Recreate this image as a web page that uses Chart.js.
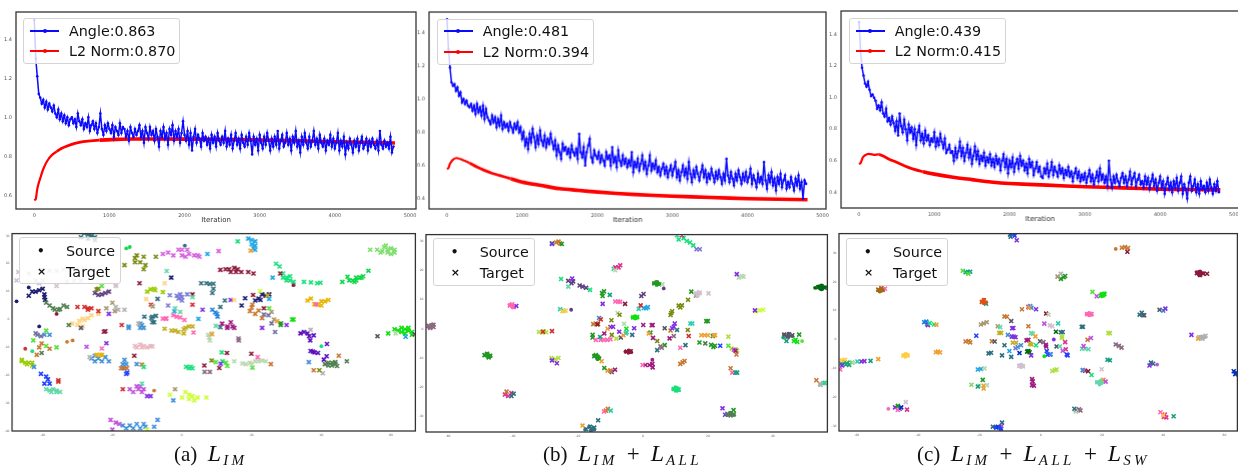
<!DOCTYPE html>
<html><head><meta charset="utf-8">
<script src="https://cdn.jsdelivr.net/npm/chart.js@4"></script>
<style>
html,body{margin:0;padding:0;background:#fff;width:1238px;height:468px;overflow:hidden}
#page{position:relative;width:1238px;height:468px;overflow:hidden;font-family:"DejaVu Sans",sans-serif}
canvas{position:absolute;filter:blur(.45px)}
.lg{position:absolute;background:rgba(255,255,255,.8);border:1px solid #d4d4d4;border-radius:3px;box-sizing:border-box}
.lg span.t{position:absolute;font-size:14.3px;line-height:18px;color:#111;white-space:nowrap}
.lg i.l{position:absolute;height:2px;width:29px}
.lg i.m{position:absolute;width:4px;height:4px;border-radius:50%}
.lg b.d{position:absolute;font:700 11px "DejaVu Sans";color:#111}
.cap{position:absolute;top:440px;font-family:"Liberation Serif",serif;font-size:21px;line-height:26px;color:#111;white-space:nowrap}
.cap i.L{font-size:24px}
.cap sub{font-size:15px;font-style:italic;vertical-align:-4px;line-height:0;letter-spacing:3.4px;margin-left:2px}
.cap .p{margin:0 11px 0 9px;font-size:23px}
</style></head><body><div id="page"></div>
<script>
const lineXTicks=[0,1000,2000,3000,4000,5000];
const lineYTicksA=[0.6,0.8,1.0,1.2,1.4];
const lineYTicksB=[0.4,0.6,0.8,1.0,1.2,1.4];
const logStep=20;
const angleA=[
1.50,1.30,1.21,1.12,1.10,1.07,1.09,1.05,1.08,1.04,
1.07,1.05,1.03,1.06,1.02,1.00,1.04,.99,1.02,.98,
1.01,.97,1.00,.96,.99,1.00,.97,.99,.95,1.02,
.98,.96,.99,.94,.97,.95,1.00,.93,.96,.98,
.94,.97,.92,.95,1.02,.94,.91,.96,.93,.97,
.94,.92,.96,.90,.95,.93,.91,.97,.92,.95,
.94,.90,.93,.88,.95,.92,.90,.94,.91,.93,
.96,.90,.93,.87,.95,.92,.89,.95,.91,.93,
.88,.94,.90,.85,.93,.90,.95,.89,.92,.86,
.94,.91,.96,.88,.93,.90,.94,.87,.92,.98,
.91,.88,.93,.86,.92,.83,.90,.94,.87,.91,
.89,.85,.92,.88,.90,.86,.89,.84,.91,.87,
.90,.85,.92,.88,.86,.90,.87,.93,.85,.89,
.86,.91,.84,.88,.92,.86,.89,.84,.91,.87,
.85,.90,.86,.92,.88,.81,.90,.86,.89,.83,
.91,.87,.84,.90,.86,.92,.88,.83,.89,.85,
.90,.86,.93,.84,.88,.91,.85,.87,.92,.86,
.89,.83,.90,.87,.93,.85,.88,.82,.90,.86,
.92,.87,.84,.90,.85,.88,.93,.86,.89,.84,
.91,.87,.85,.89,.83,.88,.86,.91,.85,.89,
.84,.87,.92,.83,.88,.85,.90,.81,.87,.84,
.89,.86,.82,.88,.85,.89,.83,.87,.90,.84,
.86,.89,.83,.88,.85,.89,.86,.84,.88,.83,
.93,.86,.84,.88,.85,.87,.84,.90,.82,.85];
const angleB=[
1.48,1.30,1.19,1.10,1.08,1.09,1.05,1.07,1.02,1.04,
.98,1.00,.97,.99,.96,.95,.97,.93,.96,.91,
.97,.92,.95,.90,.96,.88,.94,.89,.87,.85,
.90,.86,.89,.83,.88,.84,.90,.82,.86,.83,
.85,.81,.86,.83,.80,.85,.82,.86,.80,.83,
.76,.80,.72,.76,.70,.79,.74,.82,.77,.71,
.78,.73,.81,.75,.72,.78,.71,.76,.73,.79,
.74,.70,.75,.66,.72,.68,.64,.73,.69,.71,
.67,.70,.65,.72,.68,.66,.70,.64,.79,.68,
.65,.71,.60,.68,.72,.76,.65,.62,.69,.66,
.64,.68,.62,.66,.63,.60,.68,.64,.66,.60,
.71,.62,.65,.59,.69,.63,.60,.66,.61,.64,
.59,.63,.60,.68,.56,.62,.59,.64,.57,.61,
.66,.58,.62,.55,.60,.66,.57,.61,.58,.63,
.56,.59,.54,.58,.61,.55,.59,.53,.57,.60,
.54,.58,.62,.53,.57,.51,.56,.60,.54,.58,
.52,.62,.55,.50,.57,.53,.59,.55,.51,.56,
.60,.53,.57,.50,.55,.52,.58,.54,.50,.56,
.52,.57,.53,.49,.55,.51,.64,.54,.50,.56,
.52,.48,.55,.51,.57,.53,.49,.55,.51,.56,
.50,.53,.58,.49,.54,.51,.47,.55,.50,.53,
.49,.62,.51,.46,.54,.50,.56,.48,.52,.45,
.53,.49,.55,.47,.51,.54,.46,.50,.47,.53,
.49,.45,.52,.48,.54,.46,.50,.40,.51,.49];
const angleC=[
1.48,1.30,1.19,1.14,1.09,1.07,1.10,1.05,1.01,1.02,
1.00,.98,.93,.95,.92,.97,.90,.88,.93,.85,
.87,.83,.88,.84,.79,.85,.76,.90,.82,.78,
.86,.80,.73,.83,.78,.81,.74,.80,.70,.78,
.82,.73,.77,.71,.79,.73,.76,.70,.74,.72,
.78,.69,.74,.70,.77,.72,.68,.74,.65,.67,
.70,.65,.66,.60,.68,.62,.66,.72,.63,.68,
.60,.65,.70,.62,.67,.58,.63,.69,.61,.66,
.58,.63,.60,.65,.57,.62,.59,.64,.57,.61,
.56,.63,.58,.61,.54,.60,.64,.56,.61,.52,
.60,.56,.62,.53,.58,.61,.55,.63,.57,.60,
.54,.58,.52,.61,.56,.59,.51,.55,.59,.53,
.56,.50,.49,.55,.52,.58,.50,.54,.59,.51,
.56,.53,.50,.57,.52,.55,.49,.54,.51,.56,
.50,.53,.47,.52,.55,.49,.53,.47,.51,.48,
.52,.46,.50,.54,.47,.51,.45,.49,.53,.47,
.55,.48,.51,.46,.50,.44,.60,.48,.43,.50,
.46,.51,.47,.44,.49,.52,.46,.50,.44,.48,
.53,.45,.49,.52,.44,.48,.51,.45,.47,.43,
.50,.45,.49,.42,.47,.51,.44,.48,.41,.46,
.50,.43,.47,.39,.45,.49,.42,.46,.40,.47,
.43,.49,.41,.46,.50,.39,.45,.42,.36,.46,
.50,.41,.44,.48,.40,.45,.39,.47,.42,.44,
.40,.46,.41,.48,.43,.39,.45,.41,.47,.40];
const l2A=[[0,.575],[20,.58],[35,.62],[50,.65],[80,.688],[120,.735],[170,.775],[230,.805],[300,.825],[360,.84],[430,.852],[540,.866],[650,.875],[870,.883],[1100,.887],[1310,.889],[2000,.888],[2500,.887],[3000,.884],[3500,.880],[4000,.875],[4400,.872],[4800,.868]];
const l2B=[[0,.578],[20,.585],[40,.61],[80,.635],[130,.645],[200,.635],[300,.615],[400,.59],[500,.57],[600,.553],[700,.54],[850,.52],[1000,.50],[1250,.48],[1500,.46],[1750,.45],[2000,.44],[2500,.425],[3000,.415],[3500,.408],[4000,.40],[4400,.397],[4800,.394]];
const l2C=[[0,.578],[20,.585],[50,.62],[80,.635],[130,.643],[200,.637],[260,.64],[320,.63],[400,.61],[500,.59],[600,.568],[700,.55],[850,.53],[1000,.515],[1250,.495],[1500,.48],[1750,.465],[2000,.455],[2500,.445],[3000,.435],[3500,.428],[4000,.42],[4400,.417],[4800,.415]];

const classColors=['#1ea7e6','#7ddf6a','#0fd848','#18e07a','#d85fe0','#7a8a10','#56e03a','#8b1a3a','#2f6f7f','#1a1a6e',
'#9acd00','#ffd27f','#e8b400','#ff66b3','#7a7ad8','#2080e0','#c0b020','#b8d8b0','#e8b8c0','#f0a030',
'#4090d8','#10e010','#5a10c0','#2040ff','#60d8a8','#c050e0','#ccff33','#8030e0','#a06090','#d03030',
'#508050','#b0b0b0','#604080','#c87830','#229922','#2ad0b0','#a01a80','#555566','#e03090','#7070a0',
'#b0e040','#14a080','#006a10','#a89870','#d0c0d0','#8e6a82','#a56a1a','#e05010','#ffcc44','#0030c0'];
const sourcesA=[[9,-41,-2.5,-47.5,6.5,-44,11.5],[7,-36,2,32,12.3],[8,.8,26.5],[2,-16,25.5,-15,26],[29,-45,-10.5],[3,-43,-11.4,40,-9.6],[33,-8,-25.5,-33,-8,-31.4,-7.5]];
const targetsA=[
[0,19,29,20,28.5,21,28,20,27,21,26.5,20.5,25.5,21,25,7.3,23.5,26,15],[19,19.7,24.7],[3,16,28],
[1,54,25,56,25,57.5,24.5,58,26,59,25,60,25.5,61,25,59,24,60,23.5,61,24,58.5,26.5,57,24],
[2,46,13.5,47.5,15.3,49,14,50,15,51,15,50,14,49.5,13.5,51.5,15,52,15.5,53.5,17.5,48,14],
[3,27,20,28,19,29,16.5,29,15,30,14,31,14,32,13.5,30,15,31,15.5,35,13.5,37,13.3,38.8,13,39.7,13.2],[7,28.2,16.5],
[4,-5.5,23.5,-4,24,-2.5,23,-1,25,0,25,1.5,25,0,23,1,22.5,2,23.5,3.5,23,4.5,23,5,22.5,10.5,24.5],
[5,-13,23,-13.5,22,-11,22.5,-13.5,20.5,-12,20.5,-10.5,19.5,-16.5,19.5,-11,18,-7.5,22.5,-24.5,10.8,-24,11],
[7,11,17.8,12.5,18,13.5,18,14,17,15,18.5,16,18,15.5,17,17,17,19,17,20.5,16.5,-22.4,-4.4,-22,-4.2,-12.2,13,-13.7,-13],
[8,5.5,13,7,13,8,12.7,9,12.8,9,11,8.7,9.5,-10.8,1,-8.5,1,-8.8,.5,-8,-1,-8.5,-1,-7.5,1.3,-7,7.4,11,4.5,12.3,6.8],
[14,-3.5,8.7,-1.5,8.5,-1,7.5,-.5,9,0,8,0,6.8,1.5,9],[7,3,9],
[9,-44,8.5,-43,10,-42,10,-41,10.5,-40,11,-39.5,9,-39.5,8,-39.3,7,-3.1,15,17.1,5,18.1,7.6,21,6.8,22.5,7,24,8.5,25,9,22,7.5,23,9],
[30,-39,6,-38,5,-37,4,-36.5,3.5,-35.5,3.5,-35,3.7,-34,5,-33,4.5],
[10,-46,-15,-45,-15.5,-44,-15.5,-43,-15.5,-44.5,-16,-46,-14.5,-43,-16.5,-10,10,-9,10.8,-8,11,-7.7,10.5,-5.5,9.8],
[23,-40.5,-19.5,-39,-20.5,-38.5,-21.5,-38,-23,-39.5,-23],[29,-35.5,-21.8,-35.5,-22.3],
[24,-39,-25,-38,-25.5,-37,-25,-36,-25.5,-35,-26,-37.5,-26,-36,-26],
[25,-20.5,-36,-19,-37,-20,-39.5,-18,-37.5,-13,-24,-15,-25,-14,-26,-12.5,-25,-12,-24,-11.5,-26,-11,-25],
[20,-17,-38,-16,-39,-15,-38,-14,-39,-13,-37.5,-12,-39,-11,-37.5,-10.5,-38.5,-8,-38.5,-7,-36],[26,-10,-39.5],
[27,-10,-27.5,-9,-27.5,5.9,3.5,14,7],[24,-11.5,-23],[29,-17,-25],
[26,-3.5,-27,0,-28,1,-26,2,-27,2,-28.5,3,-27.5,3.5,-29,4.5,-28,7,-28],[43,-2,-25],[20,-2.5,-29],
[20,-25,-13,-26,-14,-25,-15,-24,-14,-23,-15,-22,-13.5,-21,-15],[12,-24.5,-12.7,-23.5,-12.7,-23,-12.7],[31,-26.5,-13.5],
[25,-27.4,-9.8],[13,-23,-10.4],[27,-21.7,-8.5,-21,2],
[20,-16.5,-14.5,-17,-16,-17,-17.5,-16,-16,-13,-16,-15.3,-2.5,-15.3,-3,-11.5,-2,-12,-1.5,-11,-3,-12,-3],[33,-17.5,-17.5,-16.5,-17.5,-15.8,-17.5,-11.5,-16.2],[23,-16,-19.5,-15.7,-19],[3,-11,-17],
[18,-13.5,-9.5,-13,-10,-12,-9,-11.5,-10,-11,-9.5,-10,-10,-9,-9.5,-8.5,-9.7],
[39,-42,-5,-41.5,-5.5,-40.5,-6],[20,-39.5,-5.5,-38,-5.5],[6,-39,-4,-42.7,-7.5,-39,-9.5,-36,-10],[33,-40.3,-8.6,-41,-10,-38,-10.5,-41.7,-12.7],[30,-40.3,-12],[20,-42.5,-17],
[11,-31.5,-1.5,-30,-2,-29.5,-.5,-28.5,.2,-28,-.2,-27,.5,-28.5,-2.5,-26,1.5,-24,2],[37,-29,-3],[30,-32.5,-2],
[29,-30,4.5,-28,4.5,-27,4,-26,4,-27,3.5,-24,3],[43,-21.7,4,-20,6,-19.3,3],[31,-19,4.5,-18.3,3.5,-16.5,3.5],
[32,-25,9.5,-24,8.8,-23,9,-22,9.5,-21,10],[29,-17.3,-2,-8.9,5.3,3,5.3],[31,-12.5,-1.5],
[11,-10.3,7.3,-5,13],[43,-8.4,4.7],[24,-4.4,17.4,3,8],[14,-4,5],[0,-2.2,3,4.7,.2],[24,-2,4,-.5,2.7],
[13,-5.5,.3,-4.5,.4,-4.7,.2,-2.5,1.5,-1.5,1,-.5,.7,.7,-.2,3.3,-4.7],
[16,-5,-3.3,-3,-4,-2,-4,-1,-4.5,.5,-5,.5,-3.5,1,-3,2,-2.5,3,-2.5],
[15,8.7,3.5,9.5,2.5,10,2,10.2,1],[17,7.8,-6.5,8,-7.5,7.5,-5.5,8.5,-5],[19,8.6,-5.3],
[24,9.7,-2.3],[8,11,-2.8],[36,11.5,-1.5,13,-2.5,13,-3,14,-1,14.5,-2.5,15,-3],[45,16.2,-6.8,16.3,-7.5],[11,15,7],
[26,22.4,10.2],[12,24.5,8.6],[0,25,7.4],[7,20.4,8.8,23.5,4],[33,20.2,5.3,20,4.3,19.5,3,21,2,23,.5,22,3.2],[6,25,4],[43,25.7,2.7,26.4,0],[39,23.5,1.8,24.8,1.5,25.7,-1.4,26.7,-4.5],[27,23,-3,30,-2],[19,27.3,-.6],[34,28.3,-2,28.4,-1.4],[21,31.6,0,32,0],
[12,36,6.8,37,7.5,38,5.5,39,5.3,40,6.5,41,6.5,42,7,40,5],[13,38.5,5.4],
[22,34,-5,35,-4.5,36,-5,36.5,-6,36.8,-7.5,37.8,-5.7,36.9,-11.3,37.5,-11.5,38,-11.8,39,-12,41.6,-8.8,40.7,-14.4,41.5,-13.2],[31,36.9,-3.7,40.4,-19.3],[20,36.4,-15.3],
[30,41,-16,42,-15.5,43,-15.5,44,-15.3,42,-16.5,44,-16,43,-16.5,47.3,-15,44.5,-16.7],[33,45,-13,37.8,-18.2],[5,39.4,-18.2],
[21,61,-3.5,62,-4,63,-3,64,-3.5,65,-4,64,-5,63,-4.5,65,-3,66,-4.5,66,-5.5,59.2,-5],[17,61.3,-5],[0,64.2,-6.2],[37,56.1,-6,66.8,-5.3],
[3,1.2,-17,2,-17.5,2.5,-17,3,-17.5,11.6,-15,11.4,-11.8],[7,6.4,-16.5,10.7,-17.4,19.9,-12.3,12.9,-12],[45,6.5,-18.8,8,-18.8],[5,8.5,-14.7],[6,9.7,-15.3,20.2,-17.3,12.6,-15.5,13,-16.7],[27,11.1,-15.9],
[17,15,-15,17.3,-15.8,18.3,-16,19.5,-15.5,21,-15,22,-15,23,-14.7,20,-16,24,-15],[33,25.5,-16],[13,21.7,-13.5],
[44,-47,17,-47.5,14,-44,16.5,-42,14,-40,17,-40.5,18,-38,17.5,-36,17.5,-34,18,-30,16,-28,18,-26,18,-33,13.5,-31,14,-29,14,-40,14,-41,13,-36,12,-30,18],
[8,-28,31,-27,30.5,-29,29.5,-26,30,-25,29.5,-27,29,-25,28.5],[44,-19,12.5,-19,12],[6,-23,12]
];
const sourcesB=[[36,2.9,-10.6],[32,6.4,13.8,-22.1,6.5],[41,43.2,-3],[6,49,-4.2],[42,53,14],
[45,-66,.8,-65.5,1.2,-65,.6,-64.5,1,-65.8,.4,-64.8,1.5],[34,-48.6,-9,-48,-8.5,-47.4,-9,-47.8,-9.6,-47,-9.4],
[3,9.3,-20.6,10,-20,10.8,-20.4,10.3,-21.2,11,-21],[42,54,14.5,55,14.8,56,14.2,55,13.5,54.5,13.8],
[21,-3.2,3.9,-2.4,4.3,-1.7,3.8,-2.4,3.5],[34,3.4,15.6,4.3,16,5,15.4,4.2,15],[44,16,12.2,17,12.6,17.6,12,16.8,11.4],
[7,-5.4,-7.8,-4.4,-7.4,-3.6,-8,-4.5,-8.2],[8,-17.8,-34.5,-16.5,-33.4,-15,-34.5,-16,-35],[37,43.5,-2,44.8,-1.7,46,-2.5,44.8,-2.8],
[30,26,-29.5,27,-28.7,28,-29.5],[13,-41,8.2,-40,8,-40.2,7.4],[34,-15,-9.2,-14,-9.3,-13.5,-10,-14,-10.4]];
const targetsB=[
[45,-66,1,-65,1,-64.5,.6,-65.5,.3,-64.5,1.4],[34,-48.8,-9,-48,-8.6,-47,-9.2,-47.5,-9.8],[40,-32,-1.1,-31,-1.3,-30.5,-.9,-29.8,-1.2],[29,-30.8,-1,-28,-.8],
[13,-41,7.9,-40.3,8.4,-39.8,7.4],[27,-39,7.8],[40,-28.2,-10,-27,-10.4,-26,-10],[27,-28,-10.8,-26.5,-11.8],
[38,-42.5,-22.5,-41.5,-23,-40.5,-22],[33,-42,-21.5],[8,-40.5,-23,-39.8,-22.2],[8,-17.5,-34.3,-16,-34.2,-15,-33.8,-16.3,-33.5],[19,-18.6,-33.1],[8,-13.8,-31.3],[33,-11.4,-28,-10.8,-27.4],[13,-12,-28.3],[35,-9.9,-28],
[33,-26.7,29.5,-26,29.8,-25.5,29.2],[34,-28,29.2,-25,29],[27,-28,29],
[3,10.5,32,11,30.5,12.5,31,13.5,30,14.5,29.5,15.5,28.5],[38,12,32],[14,16.5,27.2,17.5,27.2],[3,-9,20.5],
[38,-8.5,21,-7.5,21,-7,21.7],[17,-8.5,20],[34,3.5,15.5,4.2,15.8,5,15.2],[17,6,15.2],[42,54,14.2,55,14.5,56,14,55,13.8],
[17,29.5,17.5,30.5,18,31,17.8],[27,28.9,18.7],[44,16.5,12,17.5,12.4,16.8,11.6,20.2,12.1],[5,13.9,9.9],[34,14.9,12.7],[43,16.3,11.3],
[5,11,7.9,12,8,11.5,7.3,8.7,5.4,9,6,8.5,4.7],[26,34.8,6,36,6.3,37,6.5],[27,34.5,6.3],
[37,43.5,-2,45,-1.9,46,-2.2,44.5,-2.7],[21,46.5,-4.2,47.5,-4.5,47,-3.8],[34,48.1,-2],[41,44.2,-4.2],
[31,54.5,-18.8,55.5,-18.6,54.7,-19.2],[33,53.4,-17.6],[3,56,-18.5],[3,9.5,-20.6,10.2,-20.4,11,-20.8,10.2,-21],
[30,26,-29.1,27,-29,28,-29.2,27,-29.6],[27,24.5,-27.2,25.3,-29.4],[34,27.9,-27.8],
[40,27.3,-6.8,28.5,-7,29,-7.4],[25,28,-7.2],[33,28.8,-8.8],[33,27,-13.5],[13,27.5,-15],[41,28.5,-15,29,-15],
[33,11.5,-12,12.2,-11.5,12.8,-11],[36,.8,-12.4,2,-12.4,2.9,-12,3,-13.2],[13,-.1,-12.4],
[7,-5,-7.8,-4.2,-7.8,-3.8,-7.7],[34,-15,-9.4,-14,-9.6,-13.5,-10.2,-14.5,-9],[19,-12.7,-11.1,-10.9,-14.3],[34,-11.9,-13.4],[37,-9.6,-14.8],[36,-8.6,-14],
[32,-19.5,14.8,-18.6,14.4,-17.5,14,-21.5,16.2,-23,16.4,-22,15.6],[34,-12.6,12.2,-12.4,11.2,-12,12.8],[41,-10.2,11.6],[3,-16.3,13.3,-25.2,17],[27,-21.8,17.2],[24,-23,14.4],
[35,-25.5,6.7,-24.5,6.2],[48,-24.8,6,-23.8,6.2],[13,-8.5,9.3,-7.6,9.3,-7,9.2],[7,-5.5,8.5],[27,-12.4,8.5],
[21,-3,3.9,-2.4,3.9,-1.8,4],[0,.3,7.1,1,7,1.5,7.4],[35,-1.3,6.8],[29,-.7,8],[32,-.5,11.2,.2,11.9],
[33,-15.3,1.6,-14.5,1.8,-13.8,1.7],[7,-14,1.5],[20,-13.5,3.7],[29,-13,3.2],[27,-10,.6,-9.2,.7,-7.3,-1],[17,-7.8,5.4],[5,-7.2,4.8,-9.7,2.9],[17,-5.8,1.7],[21,-5.1,0],
[19,-10.9,0],[36,-11.9,-1.6],[27,-2.7,.2],[35,-5.3,-1.6,-5,-1.2],[8,-3.3,-2.1],[36,.1,1.3,2.7,1.2,3,1.3],[34,2.3,-1.3],[19,1.8,-1.6],[36,3.1,-3.1],[37,6.7,.2],[33,8.5,-.6],[27,9.5,.7,9.8,1.8,9,.2],[8,10.5,-.4],[45,9.5,-2.5],[36,8.2,-3.3],
[29,14.1,-2.5],[5,13.8,-.4],[34,6.7,-5.6],[45,5.4,-6,5.8,-6.5],[5,4.4,-4.2],[8,4.4,-7.3],[13,11.5,-6.5],[8,13.1,-5.6],[34,17.4,-4.7],[30,19.2,-5],[40,26.3,-2.7],[6,26.3,-5.8],[23,23.8,-5.8],
[34,21,-5.5,21.7,-6.2,22.2,-5.8,21.5,-2.5],[19,18,-2.2,19,-2.2,20,-2.2,21.8,-2.2,22.2,-2.2],[35,14.6,1.8,15.2,1.8],[34,19.5,2.6,20,2.6],[34,-15.5,-2.1,-15.5,-3],[13,-14.5,-3.8,-13,-3.8,-12,-3.8,-11,-3.8,-10,-3.6],[41,-13.2,-2.8],[5,-9.6,-2.1],[40,-8.2,-3.4],[37,-6.8,-3],[19,-6,-2.2],
[33,-10,-14.3],[36,28.5,-7.5]
];
const sourcesC=[[33,24.5,31.4],[25,38,-8.7],[27,4.3,0],[21,1.2,-5.8],[13,-49.7,-24],[17,-61.1,-8],
[7,51,23.3,52,23.6,53,23,52,22.2,51.5,22.6],[48,-44.8,-5.4,-44,-5,-43.4,-5.6,-44.2,-6],[46,-53,17,-52,17.6,-51.5,17,-52.5,16.6],
[13,15,8.8,15.8,9.2,16.6,8.6,15.8,8.4],[44,-7,-9,-6.3,-8.7,-5.7,-9.2,-6.4,-9.6],[31,52,1,53,1,53.8,.9,52.8,.4],
[21,20,15.8,20.8,16,20,15,20.6,15.2],[24,18.4,-14.8,19.4,-14.4,20,-15,19.2,-15.6],[23,-14.8,-30.5,-13.5,-30.2,-13,-31],[47,-19.2,13.2,-18.5,13.8,-18,12.8,-18.6,12.6]];
const targetsC=[
[41,-65,-8.3,-64,-7.8,-63.5,-8.6,-63,-8,-62.5,-8.8],[48,-65,-7.2,-63.8,-7],[27,-64.8,-9],[13,-65.4,-10.4],[27,-58.5,-7.6,-57.5,-7.5],[35,-59.8,-7.6],[41,-55.5,-7.4],[19,-53,-6.8],
[48,-44.8,-5.6,-44,-5.3,-43.4,-5.5],[19,-34.2,-4.4,-33.5,-4.2,-32.8,-4.5],[46,-53,17.3,-52.4,17,-51.5,17.3,-52,17.8],[13,-50.8,17.6],
[41,-24.5,23.3,-23.7,23.4,-23,23.5],[6,-25.4,23.8,-23.6,22.8],[15,-38,6,-37.3,6.2,-37,5.4],[27,-36.8,5],[3,-36.2,5.7,-34.8,5.2],[19,-34,5.1],
[47,-19.2,13,-18.5,13.6,-18,12.8],[41,-17.8,12.4],[33,-24.5,-.7,-23.5,-.5,-23,-1],[43,-19.5,5.2,-18.6,5.6,-17.6,6],[33,-11.8,8,-11,7.9],[37,-9.6,6.4],
[23,-10,36.4,-9,36.7,-8.5,36],[8,-9.8,35.6],[27,-7.8,34.4],[33,26.5,31.8,27.5,32,28.5,31.7],[7,28.3,30.4],[34,6.6,21,7.5,21.6,8,22],[43,5.5,21.8],[31,6.6,22.8],
[21,20,15.6,20.8,15.8,19.6,15.2],[6,16.9,16.5],[25,18.3,15],[7,51,23,52,23.2,53,22.8,52,22.4],[7,54.3,22.8],
[8,32.3,8.6,33,9.3,33.3,8.4],[37,33.8,8.4],[37,38.8,10.3],[20,40,10],[27,40.7,10.7],[13,15.2,8.8,16,8.8,16.6,8.8],
[31,51.7,.8,53,.9,53.8,1.3,52.8,.3],[19,51.4,.3],[27,49.2,1.6],[45,24.5,-1.7,25.5,-2.2,26.4,-2.8],[41,21.8,-7,22.6,-7.2],[8,36,-8,36.7,-8.4],[27,35.5,-9],[49,63,-11,63.5,-12,63.8,-11.5],
[24,18.5,-14.8,19.5,-15,20,-14.3],[19,20.5,-14],[25,21.2,-14.6],[7,14.5,-10.8,15.5,-11],[13,13.9,-10.6],[3,16.6,-12.3],[20,13.7,-10.6],
[38,40.2,-26.8,41,-27,40.5,-26],[48,40,-26.2],[13,39.1,-25.2],[41,43.4,-26.6],[45,11.5,-24.5,12.5,-24.2,13,-24.6],[17,11.5,-25],[8,11,-24],
[49,-14.5,-30.5,-14,-30.2,-13,-30.8],[25,-12.8,-30],[8,-15.6,-30.2,-12.6,-28.8],[27,-47.5,-23.5,-46,-24],[13,-46.6,-24.4],[34,-46.6,-23],[49,-45.5,-23.5],[44,-44,-21.7],[38,-43.6,-24.3],
[36,-2.8,-15.8,-2.2,-16,-2.6,-14.5,-2.8,-13.7],[19,-18.6,-16,-18.6,-17],[17,-20,-16,-17.5,-15.8],[41,-20.5,-16.3],[1,-22.6,-15.7],[34,-18.9,-14],[0,-20.5,-10.4,-19.5,-10.2],[17,-18.3,-10],
[44,-7,-9.2,-6.4,-9,-5.8,-9.3],[40,3.8,-10.9,4.6,-10.6,5.2,-10.4],[8,-17,-4.8,-16.2,-4.6],[24,13.5,-3.2,14.5,-3.2,15.6,-3.4],[23,-21,1.3],[33,-15.9,-.6],[37,-15,-.7],
[16,-13.5,2.3,-12.9,2.3],[43,-14,4.6],[24,-13.2,4.3],[20,-10.7,1.6],[27,-9.4,1,-8.8,1,-8.2,.8,-9.3,3.9,-8.9,4],[33,-6.1,10.5],[38,-4,11.3],[20,-3.4,11.6,-3,11],[19,-3.8,11],[27,-1.5,10.5],[7,1.8,9],[17,2.6,8.6],[25,1.2,5.5],[44,3,4.9,3.8,4.6],[35,5.7,5.6],[42,5,2.7],[8,6.6,2.5,7.2,2.6],
[24,-3.1,2.2,-2.5,2],[33,-4,4.6],[19,-1.7,1.1],[36,-4.6,-.3,-4,-.1],[37,-.2,-.6],[45,.9,-.9],[36,1.7,-1.8,1.8,-2.4],[3,-1.5,-2],[16,-3.5,-1.5,-3,-1.7],[16,-9.1,-1.1,-8,-1.1],[20,-7.5,-2.6,-6.4,-2],[14,-8.2,-3],[8,-11.8,-2],[0,-10.2,-4],[49,-6.9,-4.7],[8,-12.6,-5.5,-9.6,-6],[42,-4.4,-4.2,-3.6,-4.4,-4,-4],[27,-3.1,-5.5],[23,2,-4,2.3,-5.2,3,-5.2],[20,3.3,-5.1],
[40,6.9,.5,7,1],[37,5.2,-2.4],[24,6.3,-2.4],[38,8,-.9,8.2,-3.4],[25,7.2,-3.9],[23,8.5,-5.2,8.8,-5.5],[33,15.3,-.1],[25,16.4,.5,14,-2.3],[8,13.4,4.4,13.8,4.4],[40,22.1,2.2,22.6,2.2],[44,19.9,-10.3],[6,-61.5,-8]
];
const lineLegends=[["Angle:0.863","L2 Norm:0.870"],["Angle:0.481","L2 Norm:0.394"],["Angle:0.439","L2 Norm:0.415"]];
const scatterLegend=["Source","Target"];
const axisTitle="Iteration";
const xTicksScatter=[[-40,-20,0,20,40,60],[-60,-40,-20,0,20,40],[-60,-40,-20,0,20,40,60]];
const yTicksScatter=[[30,20,10,0,-10,-20,-30,-40],[30,20,10,0,-10,-20,-30],[30,20,10,0,-10,-20,-30]];

const page=document.getElementById('page');
const frame={id:'frame',afterDatasetsDraw(c,a,o){const{left,top,width,height}=c.chartArea;const x=c.ctx;x.save();x.strokeStyle=o.color||'#333';x.lineWidth=o.w||1.3;x.strokeRect(left,top,width,height);x.restore();}};
function mk(box,left,bottom){
 const cv=document.createElement('canvas');
 const W=box.r-box.l+left+3,H=box.b-box.t+bottom+3;
 cv.width=W;cv.height=H;cv.style.left=(box.l-left)+'px';cv.style.top=(box.t-3)+'px';cv.style.width=W+'px';cv.style.height=H+'px';
 page.appendChild(cv);return cv;
}
function fixX(h){return s=>{s.height=h;s.paddingLeft=0;s.paddingRight=0;};}
function fixY(w){return s=>{s.width=w;s.paddingTop=0;s.paddingBottom=0;};}
function redWidth(c){const x=c.p0.parsed.x;return x<250?2.2:x<800?2.8:3.6;}
function lineChart(box,ang,l2,yTicks,lim){
 new Chart(mk(box,18,15),{type:'line',plugins:[frame],
 data:{datasets:[
  {label:'Angle',data:ang.map((v,i)=>({x:i*logStep,y:v})),borderColor:'#0a0aff',backgroundColor:'#0a0aff',borderWidth:1.5,pointRadius:1.3,pointBorderWidth:0,tension:0},
  {label:'L2 Norm',data:l2.map(p=>({x:p[0],y:p[1]})),borderColor:'#ff0000',backgroundColor:'#ff0000',borderWidth:3,pointRadius:0,tension:.2,
   segment:{borderWidth:redWidth}}]},
 options:{responsive:false,animation:false,events:[],layout:{padding:{top:3,right:3,left:0,bottom:0}},
  plugins:{legend:{display:false},tooltip:{enabled:false}},
  scales:{
   x:{type:'linear',min:lim[0],max:lim[1],grid:{display:false,drawTicks:true,tickLength:2},border:{display:false},
     title:{display:true,text:axisTitle,color:'#333',font:{size:7,family:'DejaVu Sans'},padding:{top:0,bottom:0}},
     ticks:{color:'#555',font:{size:5,family:'DejaVu Sans'},padding:2,maxRotation:0,autoSkip:false,callback:v=>String(v)},
     afterBuildTicks:s=>{s.ticks=lineXTicks.map(v=>({value:v}));},afterFit:fixX(15)},
   y:{type:'linear',min:lim[2],max:lim[3],grid:{display:false,tickLength:2},border:{display:false},
     ticks:{color:'#555',font:{size:5,family:'DejaVu Sans'},padding:2,autoSkip:false,callback:v=>v.toFixed(1)},
     afterBuildTicks:s=>{s.ticks=yTicks.map(v=>({value:v}));},afterFit:fixY(18)}
  }}});
}
function expand(groups){const pts=[],cols=[];groups.forEach(g=>{for(let i=1;i<g.length;i+=2){pts.push({x:g[i],y:g[i+1]});cols.push(classColors[g[0]]);}});return{pts,cols};}
function scatterChart(box,src,tgt,xt,yt,lim){
 const s=expand(src),t=expand(tgt);
 new Chart(mk(box,8,8),{type:'scatter',plugins:[frame],
 data:{datasets:[
  {label:'Source',data:s.pts,pointStyle:'circle',pointRadius:1.9,pointBorderWidth:0,pointBackgroundColor:s.cols},
  {label:'Target',data:t.pts,pointStyle:'crossRot',pointRadius:2.8,pointBorderWidth:1.6,pointBorderColor:t.cols,pointBackgroundColor:t.cols}]},
 options:{responsive:false,animation:false,events:[],layout:{padding:{top:3,right:3,left:0,bottom:0}},
  plugins:{legend:{display:false},tooltip:{enabled:false}},
  scales:{
   x:{type:'linear',min:lim[0],max:lim[1],grid:{display:false,tickLength:1.5,tickColor:'#333'},border:{display:false},
     ticks:{color:'#666',font:{size:3,family:'DejaVu Sans'},padding:1,maxRotation:0,autoSkip:false},
     afterBuildTicks:a=>{a.ticks=xt.map(v=>({value:v}));},afterFit:fixX(8)},
   y:{type:'linear',min:lim[2],max:lim[3],grid:{display:false,tickLength:1.5,tickColor:'#333'},border:{display:false},
     ticks:{color:'#666',font:{size:3,family:'DejaVu Sans'},padding:1,autoSkip:false},
     afterBuildTicks:a=>{a.ticks=yt.map(v=>({value:v}));},afterFit:fixY(8)}
  }}});
}
lineChart({l:15.7,r:417,t:10.5,b:208.7},angleA,l2A,lineYTicksA,[-243,5080,.53,1.54]);
lineChart({l:429.3,r:827.3,t:11,b:208.7},angleB,l2B,lineYTicksB,[-239,5046,.338,1.524]);
lineChart({l:841.3,r:1240,t:10.3,b:208.3},angleC,l2C,lineYTicksB,[-239,5048,.30,1.55]);
scatterChart({l:12,r:417.7,t:230.7,b:431.3},sourcesA,targetsA,xTicksScatter[0],yTicksScatter[0],[-48.8,67,-40,30.8]);
scatterChart({l:425.7,r:829.7,t:231.7,b:432},sourcesB,targetsB,xTicksScatter[1],yTicksScatter[1],[-66.8,56.8,-35.3,32.2]);
scatterChart({l:839,r:1240,t:231.3,b:431.3},sourcesC,targetsC,xTicksScatter[2],yTicksScatter[2],[-65.8,64.2,-31.7,36.7]);

function el(tag,cls,css,txt,par){const e=document.createElement(tag);if(cls)e.className=cls;Object.assign(e.style,css);if(txt)e.textContent=txt;(par||page).appendChild(e);return e;}
function lineLegend(x,y,w,labels){
 const b=el('div','lg',{left:x+'px',top:y+'px',width:w+'px',height:'46px'});
 ['#0a0aff','#ff0000'].forEach((c,i)=>{
  const cy=i?32:11.5;
  el('i','l',{left:'6px',top:(cy-1)+'px',background:c},'',b);
  el('i','m',{left:'18.5px',top:(cy-2)+'px',background:c},'',b);
  el('span','t',{left:'45px',top:(cy-9)+'px'},labels[i],b);
 });
}
function scatLegend(x,y,w,h,tx){
 const b=el('div','lg',{left:x+'px',top:y+'px',width:w+'px',height:h+'px'});
 scatterLegend.forEach((l,i)=>{
  const cy=i?33.5:12.5;
  el('span','t',{left:tx+'px',top:(cy-9)+'px'},l,b);
  el('b','d',{left:'17px',top:(cy-7)+'px',fontSize:i?'11px':'12px'},i?'×':'•',b);
 });
}
lineLegend(23,18,157,lineLegends[0]);
lineLegend(436.7,18.5,157.5,lineLegends[1]);
lineLegend(848.7,18,157.5,lineLegends[2]);
scatLegend(19,237,102,47,46);
scatLegend(432.7,238,102.5,48,46);
scatLegend(846,238,102,47.5,46);
function cap(x,html){const c=el('div','cap',{left:x+'px'});c.innerHTML=html;}
const LIM='<i class="L">L</i><sub>IM</sub>',LALL='<i class="L">L</i><sub>ALL</sub>',LSW='<i class="L">L</i><sub>SW</sub>',PL='<span class="p">+</span>';
cap(174,'(a) &nbsp;'+LIM);
cap(543,'(b) &nbsp;'+LIM+PL+LALL);
cap(917,'(c) &nbsp;'+LIM+PL+LALL+PL+LSW);
</script></body></html>
